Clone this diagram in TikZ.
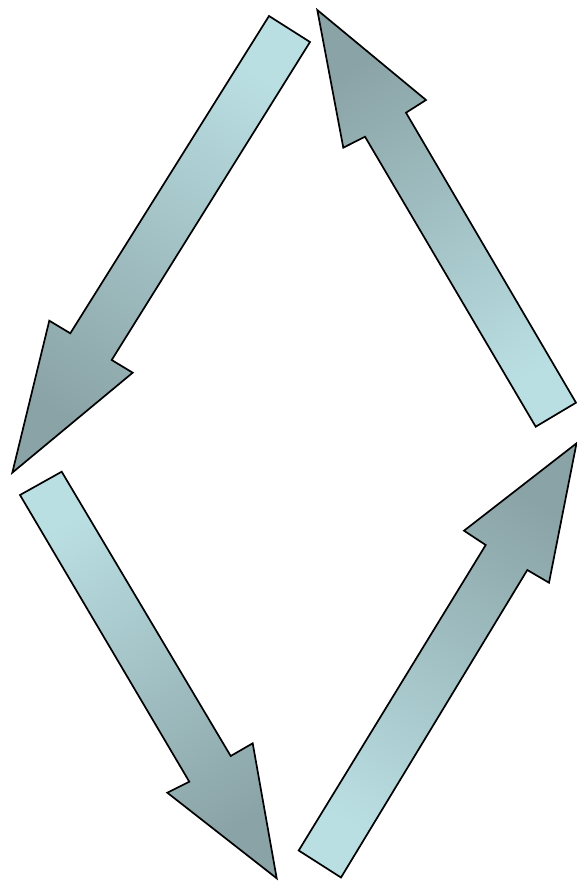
\documentclass[tikz,border=0pt]{standalone}
\definecolor{arrlight}{HTML}{BADFE3}
\definecolor{arrdark}{HTML}{8AA3A6}
\tikzset{
  bigarrow/.style={draw=black, line width=1.7pt, line join=miter, top color=arrlight, bottom color=arrdark}
}
\begin{document}
\begin{tikzpicture}[x=1pt,y=-1pt]
\useasboundingbox (0,0) rectangle (577,882);
% arrow 1: top, pointing down-left
\shade[bigarrow, shading angle=-32]
  (269,16) -- (310,42) -- (111.7,360) -- (132.7,372.7) -- (12.3,472.7)
  -- (49.3,320.7) -- (70.3,333.3) -- cycle;
% arrow 2: top right, pointing up-left
\shade[bigarrow, shading angle=210.5]
  (576,402.7) -- (535.7,426.7) -- (365,136.7) -- (343.3,147.7) -- (317.3,10)
  -- (426,100) -- (406,112.7) -- cycle;
% arrow 3: bottom left, pointing down-right
\shade[bigarrow, shading angle=30.5]
  (61.7,471.7) -- (20,495) -- (189.3,781.7) -- (167.3,792.7) -- (276.7,878.3)
  -- (252.7,743.3) -- (230.7,756) -- cycle;
% arrow 4: bottom right, pointing up-right
\shade[bigarrow, shading angle=148.4]
  (298.7,850.5) -- (341,877.5) -- (527.3,570) -- (549,582.7) -- (576.5,443.3)
  -- (464,530.7) -- (485.7,545) -- cycle;
\end{tikzpicture}
\end{document}
